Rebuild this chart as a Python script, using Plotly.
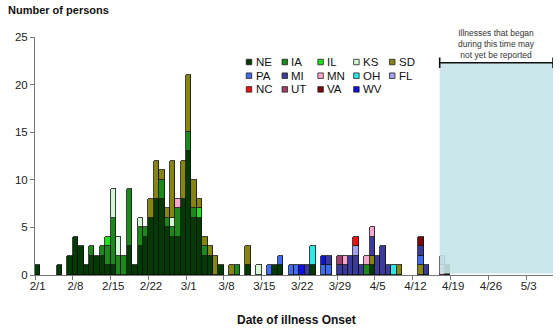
import plotly.graph_objects as go

# ---- data (day index 0 = 2/1; counts of persons by state) ----
N_DAYS = 96
tick_days = [0, 7, 14, 21, 28, 35, 42, 49, 56, 63, 70, 77, 84, 91]
tick_labels = ["2/1", "2/8", "2/15", "2/22", "3/1", "3/8", "3/15", "3/22",
               "3/29", "4/5", "4/12", "4/19", "4/26", "5/3"]

states = ["NE", "IA", "IL", "KS", "SD", "PA", "MI", "MN", "OH", "FL", "NC", "UT", "VA", "WV"]
colors = ["#033a03", "#1b8a1b", "#1ee01e", "#d4f7d4", "#878512", "#3f6cf0", "#3a3a9a",
          "#f7a6cf", "#2ee8e8", "#a3a3f5", "#f01010", "#a0406c", "#7a0a0a", "#1010e0"]

NE = {0: 1, 4: 1, 6: 2, 7: 4, 8: 3, 9: 1, 10: 2, 11: 2, 12: 2, 13: 1, 14: 1, 17: 3, 18: 1,
      19: 3, 20: 4, 21: 6, 22: 8, 23: 8, 24: 5, 25: 4, 26: 4, 27: 8, 28: 13, 29: 6, 30: 6,
      31: 2, 32: 2, 34: 1, 39: 1, 44: 1, 45: 1, 51: 1, 62: 1, 76: 1}
IA = {10: 1, 12: 1, 13: 2, 14: 5, 15: 2, 16: 2, 17: 6, 19: 2, 20: 1, 23: 2, 24: 1, 25: 1,
      26: 3, 28: 2, 29: 1, 31: 1, 37: 1, 61: 1}
IL = {13: 1, 30: 1}
KS = {14: 3, 15: 2, 19: 1, 25: 1, 41: 1}
SD = {21: 2, 22: 4, 23: 1, 24: 1, 25: 6, 27: 4, 28: 6, 29: 3, 30: 1, 31: 1, 32: 1, 33: 2,
      36: 1, 39: 2, 62: 1, 67: 1, 71: 1}
PA = {43: 1, 45: 1, 47: 1, 48: 1, 53: 1, 54: 1, 71: 1}
MI = {50: 1, 54: 1, 56: 1, 57: 1, 58: 2, 59: 2, 60: 1, 62: 2, 63: 2, 64: 3, 65: 1, 71: 1, 72: 1}
MN = {26: 1, 57: 1, 61: 1, 62: 1, 75: 1}
OH = {51: 2, 66: 1}
FL = {59: 1, 75: 1}
NC = {59: 1}
UT = {56: 1}
VA = {71: 1}
WV = {49: 1, 53: 1}

series = [NE, IA, IL, KS, SD, PA, MI, MN, OH, FL, NC, UT, VA, WV]

FONT = "Arial, Liberation Sans, sans-serif"
W, H = 560, 332
ML, MR, MT, MB = 35, 7, 37, 57
PW, PH = W - ML - MR, H - MT - MB

fig = go.Figure()
for name, col, data in zip(states, colors, series):
    days = sorted(data)
    fig.add_trace(go.Bar(
        x=days, y=[data[d] for d in days], name=name,
        marker=dict(color=col, line=dict(color="#111111", width=0.8)),
        width=1.0, showlegend=False,
    ))

# shaded "not yet reported" region with bracket
shade_x0, shade_x1, shade_top = 74.5, 95.5, 22.3
fig.add_shape(type="rect", xref="x", yref="y", x0=shade_x0, x1=shade_x1, y0=0.15, y1=shade_top,
              fillcolor="#c4e3e6", opacity=0.9, line=dict(width=0), layer="above")
fig.add_shape(type="line", xref="x", yref="y", x0=shade_x0, x1=shade_x1, y0=shade_top, y1=shade_top,
              line=dict(color="#111111", width=1.6), layer="above")
for xe in (shade_x0, shade_x1):
    fig.add_shape(type="line", xref="x", yref="y", x0=xe, x1=xe, y0=shade_top - 0.55, y1=shade_top + 0.55,
                  line=dict(color="#111111", width=1.6), layer="above")
fig.add_annotation(x=(shade_x0 + shade_x1) / 2, y=shade_top, xref="x", yref="y",
                   text="Illnesses that began<br>during this time may<br>not yet be reported",
                   showarrow=False, yanchor="bottom", yshift=1,
                   font=dict(family=FONT, size=8.5, color="#333333"), align="center")

# manual legend (3 rows x 5 columns)
def px_x(x):
    return (x - ML) / PW

def px_y(y):
    return (H - MB - y) / PH

leg_x0, leg_dx, leg_y0, leg_dy, sq = 249, 35.8, 62, 13.7, 5.5
for k, (name, col) in enumerate(zip(states, colors)):
    r, c = divmod(k, 5)
    cx = leg_x0 + c * leg_dx
    cy = leg_y0 + r * leg_dy
    fig.add_shape(type="rect", xref="paper", yref="paper",
                  x0=px_x(cx - sq / 2), x1=px_x(cx + sq / 2),
                  y0=px_y(cy + sq / 2), y1=px_y(cy - sq / 2),
                  fillcolor=col, line=dict(color="#222222", width=0.8))
    fig.add_annotation(x=px_x(cx + 4.5), y=px_y(cy), xref="paper", yref="paper",
                       text=name, showarrow=False, xanchor="left", yanchor="middle",
                       font=dict(family=FONT, size=11.5, color="#111111"))

fig.add_annotation(x=px_x(6), y=px_y(10), xref="paper", yref="paper",
                   text="<b>Number of persons</b>", showarrow=False,
                   xanchor="left", yanchor="middle",
                   font=dict(family=FONT, size=11, color="#111111"))
fig.add_annotation(x=px_x(296), y=px_y(320), xref="paper", yref="paper",
                   text="<b>Date of illness Onset</b>", showarrow=False,
                   xanchor="center", yanchor="middle",
                   font=dict(family=FONT, size=12, color="#111111"))

fig.update_layout(
    width=W, height=H, margin=dict(l=ML, r=MR, t=MT, b=MB),
    barmode="stack", bargap=0,
    plot_bgcolor="white", paper_bgcolor="white",
    font=dict(family=FONT, size=11, color="#222222"),
    xaxis=dict(range=[-0.5, N_DAYS - 0.5], tickmode="array", tickvals=tick_days,
               ticktext=tick_labels, ticks="", showline=True, linecolor="#777777",
               linewidth=1, showgrid=False, zeroline=False,
               tickfont=dict(size=11.5, color="#222222"),
               minor=dict(tickmode="linear", tick0=-0.5, dtick=7, ticks="outside",
                          ticklen=4, tickcolor="#777777", showgrid=False)),
    yaxis=dict(range=[0, 25], tickvals=[0, 5, 10, 15, 20, 25], ticks="outside",
               ticklen=4, tickcolor="#777777", showline=True, linecolor="#777777",
               linewidth=1, showgrid=False, zeroline=False,
               tickfont=dict(size=11.5, color="#222222")),
)

fig.write_html("out.html")
